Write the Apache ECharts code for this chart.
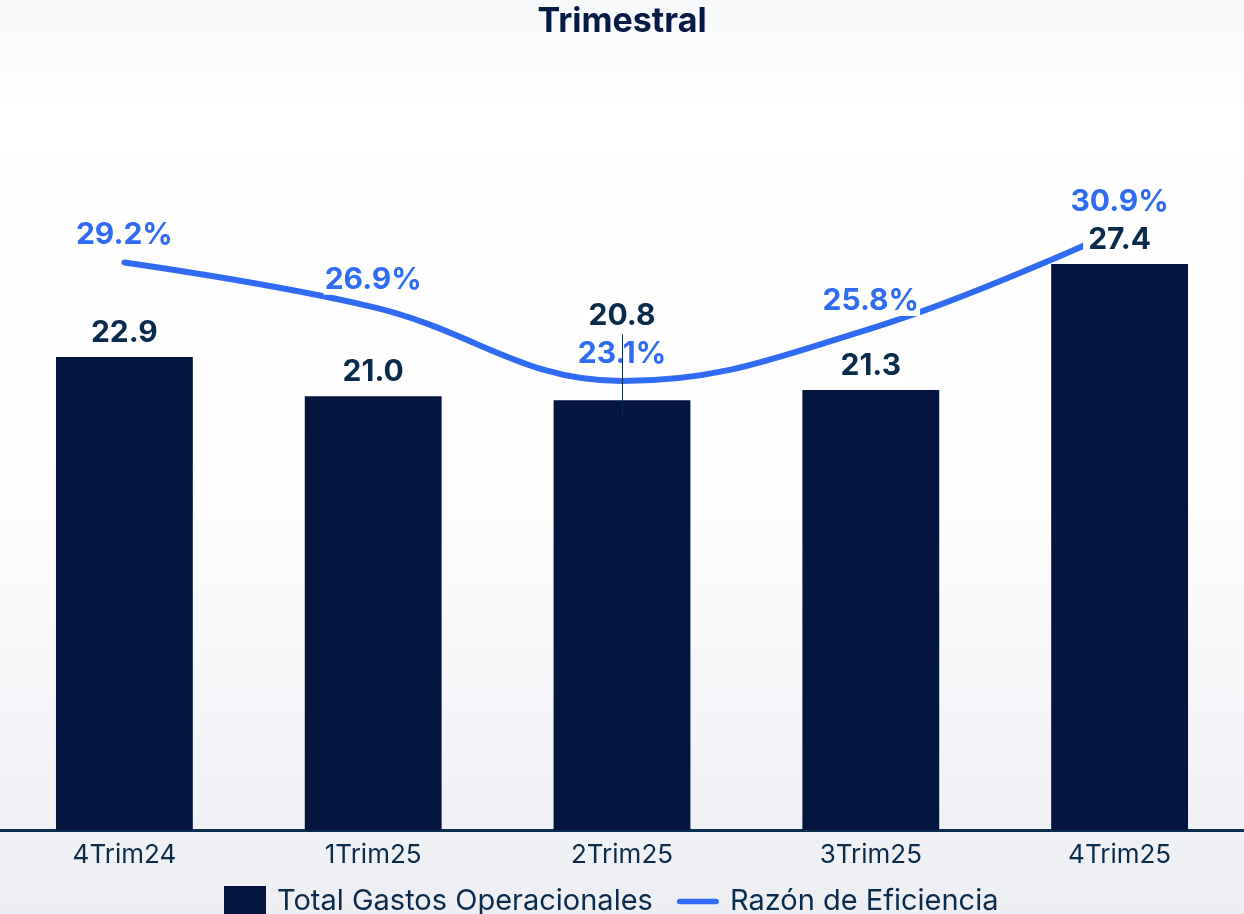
<!DOCTYPE html>
<html>
<head>
<meta charset="utf-8">
<script src="https://cdn.jsdelivr.net/npm/echarts@6/dist/echarts.min.js"></script>
<style>
  html, body { margin: 0; padding: 0; }
  #chart { width: 1244px; height: 914px; }
</style>
</head>
<body>
<div id="chart"></div>
<script>
// Quarterly operating expenses (bars) and efficiency ratio (line)
const categories = ['4Trim24', '1Trim25', '2Trim25', '3Trim25', '4Trim25'];
const gastosOperacionales = [22.9, 21.0, 20.8, 21.3, 27.4];
const razonEficiencia = [29.2, 26.9, 23.1, 25.8, 30.9];

const NAVY = '#04153f';
const TEXT = '#0b2b4c';
const BLUE = '#2f6cf3';
const FONT = 'Inter, "Noto Sans", sans-serif';

// The 2Trim25 bar label is lifted above the ratio label, with a leader line back to the bar
const LIFTED = 2;
const barData = gastosOperacionales.map((v, i) =>
  i === LIFTED ? { value: v, label: { distance: 67 } } : v);

const chart = echarts.init(document.getElementById('chart'));
chart.setOption({
  animation: false,
  backgroundColor: {
    type: 'linear', x: 0, y: 0, x2: 0, y2: 1,
    colorStops: [
      { offset: 0, color: '#f7f8fa' },
      { offset: 0.12, color: '#ffffff' },
      { offset: 0.55, color: '#fdfdfe' },
      { offset: 1, color: '#eceef2' }
    ]
  },
  title: {
    text: 'Trimestral',
    left: 'center',
    top: 0,
    textStyle: { fontFamily: FONT, fontWeight: 'bold', fontSize: 34, color: '#061a44' }
  },
  grid: { left: 0, right: 0, top: 107, bottom: 84, containLabel: false },
  legend: {
    left: 219,
    top: 881,
    itemWidth: 42,
    itemHeight: 31,
    itemGap: 24,
    symbolKeepAspect: true,
    textStyle: { fontFamily: FONT, fontSize: 29, color: TEXT, padding: [0, 0, 0, 6] },
    data: [
      { name: 'Total Gastos Operacionales', icon: 'rect' },
      { name: 'Razón de Eficiencia', icon: 'path://M3,0 H43 A3,3 0 0 1 43,6 H3 A3,3 0 0 1 3,0 Z' }
    ]
  },
  xAxis: {
    type: 'category',
    data: categories,
    axisLine: { show: true, lineStyle: { color: '#0a2d50', width: 3 } },
    axisTick: { show: false },
    axisLabel: { margin: 12, fontFamily: FONT, fontSize: 26, color: TEXT }
  },
  yAxis: [
    { type: 'value', min: 0, max: 35, show: false },
    { type: 'value', min: 0, max: 37.2, show: false }
  ],
  series: [
    {
      name: 'Total Gastos Operacionales',
      type: 'bar',
      z: 3,
      data: barData,
      barWidth: '55%',
      itemStyle: { color: NAVY },
      label: {
        show: true,
        position: 'top',
        distance: 7,
        formatter: p => p.value.toFixed(1),
        fontFamily: FONT,
        fontWeight: 'bold',
        fontSize: 30,
        lineHeight: 30,
        color: TEXT,
        backgroundColor: '#ffffff',
        padding: [2, 5]
      },
      markLine: {
        silent: true,
        symbol: 'none',
        z: 5,
        label: { show: false },
        lineStyle: { color: '#0a2d50', width: 1, type: 'solid' },
        data: [[{ coord: [categories[LIFTED], 24.0] }, { coord: [categories[LIFTED], 20.1] }]]
      }
    },
    {
      name: 'Razón de Eficiencia',
      type: 'line',
      z: 1,
      yAxisIndex: 1,
      data: razonEficiencia,
      smooth: 0.4,
      symbol: 'circle',
      symbolSize: 1,
      itemStyle: { color: BLUE },
      lineStyle: { color: BLUE, width: 6, cap: 'round' },
      label: {
        show: true,
        position: 'top',
        distance: 12,
        formatter: p => p.value.toFixed(1) + '%',
        fontFamily: FONT,
        fontWeight: 'bold',
        fontSize: 30,
        lineHeight: 30,
        color: BLUE,
        backgroundColor: '#ffffff',
        padding: [0, 1]
      }
    }
  ]
});
</script>
</body>
</html>
